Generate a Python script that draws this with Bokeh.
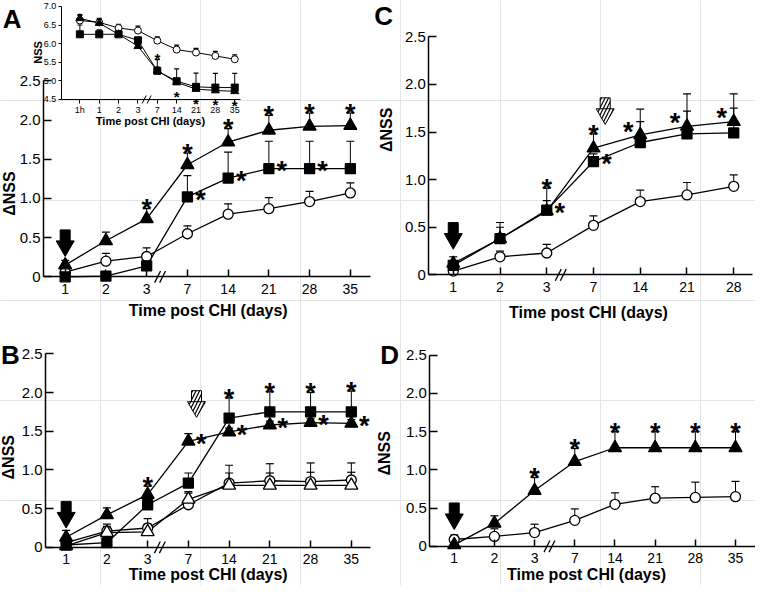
from bokeh.plotting import figure
from bokeh.models import Range1d, LinearAxis, FixedTicker, Label
from bokeh.embed import file_html
from bokeh.resources import INLINE
from bokeh.core.properties import value

W, H = 755, 585
S = 0.98
NARROW = "'Liberation Sans Narrow', 'Arial Narrow', 'Liberation Sans', Arial, sans-serif"
REG = "'Liberation Sans', Arial, sans-serif"

# ---------------- data ----------------
DAYS = ["1", "2", "3", "7", "14", "21", "28", "35"]
DAYS_C = ["1", "2", "3", "7", "14", "21", "28"]
DAYS_INSET = ["1h", "1", "2", "3", "7", "14", "21", "28", "35"]
DNSS_TICKS = [0.0, 0.5, 1.0, 1.5, 2.0, 2.5]
DNSS_LABELS = ["0", "0.5", "1.0", "1.5", "2.0", "2.5"]
NSS_TICKS = [4.5, 5.0, 5.5, 6.0, 6.5, 7.0]
NSS_LABELS = ["4.5", "5.0", "5.5", "6.0", "6.5", "7.0"]
X_TITLE = "Time post CHI (days)"

# Panel A (delta NSS)
A_circle = [0.06, 0.20, 0.26, 0.55, 0.80, 0.87, 0.96, 1.07]
A_circle_sem = [0.06, 0.10, 0.11, 0.10, 0.13, 0.14, 0.13, 0.13]
A_square = [0.00, 0.01, 0.14, 1.02, 1.26, 1.38, 1.38, 1.38]
A_square_sem = [0.00, 0.05, 0.05, 0.27, 0.33, 0.35, 0.35, 0.35]
A_triangle = [0.15, 0.46, 0.74, 1.43, 1.72, 1.87, 1.92, 1.93]
A_triangle_sem = [0.06, 0.11, 0.13, 0.15, 0.17, 0.19, 0.17, 0.16]
A_tri_star_up = [2, 3, 4, 5, 6, 7]
A_sq_star_right = [3, 4, 5, 6]

# Inset of A (NSS)
I_circle = [6.62, 6.57, 6.42, 6.35, 6.08, 5.84, 5.76, 5.67, 5.58]
I_circle_sem = [0.16, 0.11, 0.10, 0.12, 0.10, 0.12, 0.11, 0.12, 0.12]
I_square = [6.25, 6.25, 6.25, 6.09, 5.27, 4.99, 4.84, 4.82, 4.82]
I_square_sem = [0.25, 0.12, 0.05, 0.05, 0.30, 0.33, 0.37, 0.38, 0.38]
I_triangle = [6.68, 6.55, 6.25, 5.93, 5.27, 4.96, 4.78, 4.74, 4.72]
I_triangle_sem = [0.08, 0.10, 0.05, 0.05, 0.10, 0.05, 0.05, 0.05, 0.05]
I_sq_star_up = [4]
I_tri_star_down = [5, 6, 7, 8]

# Panel B
B_circle = [0.06, 0.21, 0.25, 0.55, 0.83, 0.86, 0.85, 0.87]
B_circle_sem = [0.06, 0.09, 0.12, 0.15, 0.23, 0.22, 0.24, 0.22]
B_open_triangle = [0.02, 0.19, 0.20, 0.62, 0.80, 0.80, 0.80, 0.80]
B_open_triangle_sem = [0.04, 0.08, 0.10, 0.10, 0.16, 0.16, 0.17, 0.17]
B_square = [0.03, 0.06, 0.55, 0.83, 1.67, 1.75, 1.75, 1.75]
B_square_sem = [0.00, 0.00, 0.06, 0.13, 0.26, 0.26, 0.25, 0.27]
B_triangle = [0.13, 0.42, 0.68, 1.37, 1.49, 1.58, 1.61, 1.60]
B_triangle_sem = [0.09, 0.09, 0.11, 0.10, 0.05, 0.05, 0.05, 0.05]
B_tri_star_up = [2]
B_tri_star_right = [3, 4, 5, 6, 7]
B_sq_star_up = [4, 5, 6, 7]

# Panel C
C_circle = [0.04, 0.19, 0.23, 0.52, 0.77, 0.84, 0.93]
C_circle_sem = [0.04, 0.06, 0.09, 0.10, 0.12, 0.13, 0.12]
C_square = [0.10, 0.38, 0.68, 1.19, 1.39, 1.48, 1.49]
C_square_sem = [0.05, 0.12, 0.10, 0.08, 0.22, 0.24, 0.26]
C_triangle = [0.12, 0.38, 0.67, 1.33, 1.47, 1.56, 1.61]
C_triangle_sem = [0.07, 0.17, 0.24, 0.15, 0.27, 0.34, 0.29]
C_tri_star_up = [2, 3]
C_tri_star_left = [4, 5, 6]
C_sq_star_right = [2, 3]

# Panel D
D_circle = [0.09, 0.13, 0.18, 0.34, 0.55, 0.63, 0.64, 0.65]
D_circle_sem = [0.06, 0.10, 0.11, 0.15, 0.15, 0.15, 0.20, 0.20]
D_triangle = [0.02, 0.30, 0.73, 1.11, 1.29, 1.29, 1.29, 1.29]
D_triangle_sem = [0.00, 0.10, 0.17, 0.17, 0.21, 0.21, 0.21, 0.21]
D_tri_star_up = [2, 3, 4, 5, 6, 7]

# treatment arrows: (category index, tip value)
A_arrow = (0, 0.26)
B_arrow = (0, 0.25)
B_hatched_arrow = (3.2, 1.68)
C_arrow = (0, 0.27)
C_hatched_arrow = (3.25, 1.58)
D_arrow = (0, 0.22)

# ---------------- figure ----------------
p = figure(width=W, height=H, x_range=Range1d(0, W), y_range=Range1d(H, 0),
           x_axis_location=None, y_axis_location=None, toolbar_location=None,
           output_backend="svg", min_border=0)
p.outline_line_color = None
p.background_fill_color = "white"
p.border_fill_color = "white"


def make_panel(key, cats, ax_x, idx0, dx, y0, ky, x_end, vbase, vtop, yticks, ylabels,
               main=True):
    X0, DX, Y0, KY = idx0 * S, dx * S, y0 * S, ky * S
    xr, yr = key + "_x", key + "_y"
    p.extra_x_ranges[xr] = Range1d(-X0 / DX, (W - X0) / DX)
    p.extra_y_ranges[yr] = Range1d(vbase - (H - Y0) / KY, vbase + Y0 / KY)
    ax_idx = (ax_x * S - X0) / DX
    end_idx = (x_end * S - X0) / DX
    lw = 1.5 if main else 1.0
    yax = LinearAxis(x_range_name=xr, y_range_name=yr, fixed_location=ax_idx,
                     bounds=(vbase, vtop), ticker=FixedTicker(ticks=yticks),
                     major_label_overrides={t: l for t, l in zip(yticks, ylabels)})
    xax = LinearAxis(x_range_name=xr, y_range_name=yr, fixed_location=vbase,
                     bounds=(ax_idx, end_idx),
                     ticker=FixedTicker(ticks=list(range(len(cats)))),
                     major_label_overrides={i: c for i, c in enumerate(cats)})
    for ax in (yax, xax):
        ax.axis_line_width = lw
        ax.axis_line_color = "black"
        ax.major_tick_line_width = lw
        ax.minor_tick_line_color = None
        ax.major_label_text_font = NARROW
        ax.major_label_text_color = "black"
    if main:
        yax.major_tick_in, yax.major_tick_out = 8, 0
        xax.major_tick_in, xax.major_tick_out = 7, 0
        yax.major_label_text_font_size = "15px"
        xax.major_label_text_font_size = "14px"
        yax.major_label_standoff = 3
        xax.major_label_standoff = 7
    else:
        yax.major_tick_in, yax.major_tick_out = 0, 3
        xax.major_tick_in, xax.major_tick_out = 0, 4
        yax.major_label_text_font_size = "9px"
        xax.major_label_text_font_size = "9px"
        yax.major_label_standoff = 2
        xax.major_label_standoff = 2
    p.add_layout(yax, "left")
    p.add_layout(xax, "below")
    return dict(xr=xr, yr=yr, DX=DX, KY=KY, main=main)


def draw(P, series, brk):
    kw = dict(x_range_name=P["xr"], y_range_name=P["yr"])
    main = P["main"]
    lw = 1.3 if main else 1.0
    cap = 8 if main else 5
    # axis break marks
    off = 2.5 / P["DX"]
    p.scatter([brk - off, brk + off], [0 if main else 4.5] * 2, marker="dash",
              size=13 if main else 9, angle=1.1, line_color="black",
              line_width=1.3 if main else 1.0, **kw)
    for ys, errs, kind, fill in series:
        p.line(list(range(len(ys))), ys, line_color="black", line_width=lw, **kw)
    for ys, errs, kind, fill in series:
        xs = [i for i, e in enumerate(errs) if e > 0]
        y0 = [ys[i] for i in xs]
        y1 = [ys[i] + errs[i] for i in xs]
        p.segment(xs, y0, xs, y1, line_color="black", line_width=1.0, **kw)
        p.scatter(xs, y1, marker="dash", size=cap, line_color="black", line_width=1.2, **kw)
    for ys, errs, kind, fill in series:
        if kind == "triangle":
            size = 13 if main else 8
        elif kind == "square":
            size = 10 if main else 7
        else:
            size = 10 if main else 7
        p.scatter(list(range(len(ys))), ys, marker=kind, size=size,
                  fill_color="black" if fill else "white", line_color="black",
                  line_width=1.3 if main else 1.0, **kw)


def stars(P, idx, ys, errs, mode):
    kw = dict(x_range_name=P["xr"], y_range_name=P["yr"])
    main = P["main"]
    fs = 27 if main else 15
    mid = 0.40 * fs
    if mode == "up":
        yy = [ys[i] + errs[i] for i in idx]
        dx, dy = 0, 10 if main else 7
    elif mode == "right":
        yy = [ys[i] for i in idx]
        dx, dy = 13, 8
    elif mode == "left":
        yy = [ys[i] for i in idx]
        dx, dy = -12, 14
    else:  # down
        yy = [ys[i] for i in idx]
        dx, dy = 0, -8
    p.text(list(idx), yy, text=["*"] * len(idx), text_font=value(REG), text_font_style="bold",
           text_font_size=f"{fs}px", text_align="center", text_baseline="alphabetic",
           x_offset=dx, y_offset=-dy + mid, text_color="black", **kw)


def arrow(P, spec, hatched=False):
    kw = dict(x_range_name=P["xr"], y_range_name=P["yr"])
    x, tip = spec
    KY = P["KY"]
    head = 18
    h = head * 0.866
    shaft_h = 12
    cen = tip + (2 * h / 3) / KY
    shaft_c = tip + (h + shaft_h / 2 - 1) / KY
    style = dict(fill_color="black", line_color="black", line_width=1)
    if hatched:
        style = dict(fill_color="white", line_color="black", line_width=1,
                     hatch_pattern="/", hatch_color="black", hatch_scale=7, hatch_weight=1.2)
    p.rect([x], [shaft_c], width=10, height=shaft_h, width_units="screen",
           height_units="screen", **style, **kw)
    p.scatter([x], [cen], marker="inverted_triangle", size=head, **style, **kw)


def label(x, y, text, size, angle=0.0, align="center", font=NARROW, style="bold"):
    p.add_layout(Label(x=x * S, y=y * S, text=text, text_font=font, text_font_size=f"{size}px",
                       text_font_style=style, text_align=align, text_baseline="middle",
                       angle=angle, text_color="black"))


# ---------------- panel A ----------------
PA = make_panel("A", DAYS, 44, 66, 41.57, 282, 80, 378, 0.0, 2.5, DNSS_TICKS, DNSS_LABELS)
draw(PA, [(A_circle, A_circle_sem, "circle", False),
          (A_square, A_square_sem, "square", True),
          (A_triangle, A_triangle_sem, "triangle", True)], 2.33)
stars(PA, A_tri_star_up, A_triangle, A_triangle_sem, "up")
stars(PA, A_sq_star_right, A_square, A_square_sem, "right")
arrow(PA, A_arrow)

# inset
PI = make_panel("I", DAYS_INSET, 62, 81, 19.75, 101, 38, 245, 4.5, 7.0, NSS_TICKS, NSS_LABELS,
                main=False)
draw(PI, [(I_circle, I_circle_sem, "circle", False),
          (I_square, I_square_sem, "square", True),
          (I_triangle, I_triangle_sem, "triangle", True)], 3.45)
stars(PI, I_sq_star_up, I_square, I_square_sem, "up")
stars(PI, I_tri_star_down, I_triangle, I_triangle_sem, "down")

# ---------------- panel B ----------------
PB = make_panel("B", DAYS, 46, 67, 41.57, 558, 79, 378, 0.0, 2.5, DNSS_TICKS, DNSS_LABELS)
draw(PB, [(B_circle, B_circle_sem, "circle", False),
          (B_open_triangle, B_open_triangle_sem, "triangle", False),
          (B_square, B_square_sem, "square", True),
          (B_triangle, B_triangle_sem, "triangle", True)], 2.3)
stars(PB, B_tri_star_up, B_triangle, B_triangle_sem, "up")
stars(PB, B_tri_star_right, B_triangle, B_triangle_sem, "right")
stars(PB, B_sq_star_up, B_square, B_square_sem, "up")
arrow(PB, B_arrow)
arrow(PB, B_hatched_arrow, hatched=True)

# ---------------- panel C ----------------
PC = make_panel("C", DAYS_C, 437, 462, 47.7, 280, 97.2, 767, 0.0, 2.5, DNSS_TICKS, DNSS_LABELS)
draw(PC, [(C_circle, C_circle_sem, "circle", False),
          (C_square, C_square_sem, "square", True),
          (C_triangle, C_triangle_sem, "triangle", True)], 2.3)
stars(PC, C_tri_star_up, C_triangle, C_triangle_sem, "up")
stars(PC, C_tri_star_left, C_triangle, C_triangle_sem, "left")
stars(PC, C_sq_star_right, C_square, C_square_sem, "right")
arrow(PC, C_arrow)
arrow(PC, C_hatched_arrow, hatched=True)

# ---------------- panel D ----------------
PD = make_panel("D", DAYS, 438, 463, 41.0, 557, 78, 770, 0.0, 2.5, DNSS_TICKS, DNSS_LABELS)
draw(PD, [(D_circle, D_circle_sem, "circle", False),
          (D_triangle, D_triangle_sem, "triangle", True)], 2.37)
stars(PD, D_tri_star_up, D_triangle, D_triangle_sem, "up")
arrow(PD, D_arrow)

# ---------------- texts ----------------
label(12, 19, "A", 26, font=REG)
label(10, 362, "B", 26, font=REG)
label(391, 16, "C", 26, font=REG)
label(397, 362, "D", 26, font=REG)
label(212, 316, X_TITLE, 16)
label(212, 586, X_TITLE, 16)
label(600, 318, X_TITLE, 16)
label(598, 586, X_TITLE, 16)
label(153, 123, X_TITLE, 11)
label(9, 197, "ΔNSS", 16, angle=1.5708)
label(8, 466, "ΔNSS", 16, angle=1.5708)
label(394, 132, "ΔNSS", 16, angle=1.5708)
label(392, 462, "ΔNSS", 16, angle=1.5708)
label(38, 53, "NSS", 11, angle=1.5708)

open("out.html", "w").write(file_html(p, INLINE))
